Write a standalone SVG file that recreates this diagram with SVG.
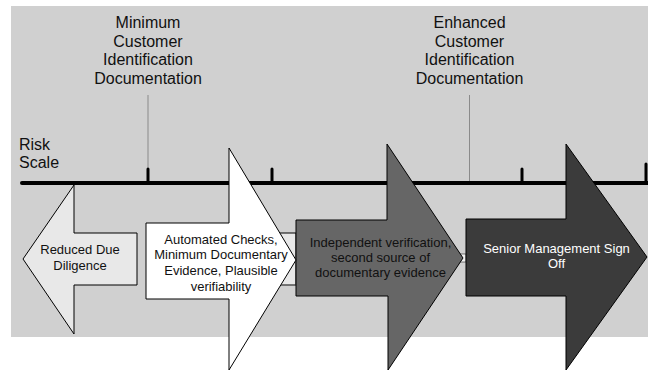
<svg xmlns="http://www.w3.org/2000/svg" width="648" height="371" viewBox="0 0 648 371">
  <style>
    .lbl { font-family: "Liberation Sans", Arial, sans-serif; font-size: 16px; fill: #111; text-anchor: middle; }
    .risk { font-family: "Liberation Sans", Arial, sans-serif; font-size: 16px; fill: #111; }
    .in { font-family: "Liberation Sans", Arial, sans-serif; font-size: 13px; text-anchor: middle; }
    .dark { fill: #111; }
    .light { fill: #fff; }
    .arrow { stroke: #000; stroke-width: 1; stroke-linejoin: miter; }
    .lead { stroke: #8a8a8a; stroke-width: 1; fill: none; }
    .tick { stroke: #000; stroke-width: 3; stroke-linecap: round; fill: none; }
  </style>

  <!-- backdrop panel -->
  <rect x="11" y="6" width="637" height="331" fill="#d0d0d0"/>

  <!-- risk scale axis, ticks and leader lines -->
  <g id="connectors">
    <line class="lead" x1="148" y1="95" x2="148" y2="168"/>
    <line class="lead" x1="469.5" y1="95" x2="469.5" y2="183"/>
    <line x1="22" y1="183" x2="648" y2="183" stroke="#000" stroke-width="4" stroke-linecap="round"/>
    <line class="tick" x1="148" y1="169" x2="148" y2="183"/>
    <line class="tick" x1="272" y1="169" x2="272" y2="183"/>
    <line class="tick" x1="522" y1="169" x2="522" y2="183"/>
    <line class="tick" x1="646" y1="164" x2="646" y2="183"/>
  </g>

  <g id="label-risk-scale">
    <text class="risk" x="19" y="150">Risk</text>
    <text class="risk" x="19" y="168">Scale</text>
  </g>

  <g id="label-minimum">
    <text class="lbl" x="148" y="28">Minimum</text>
    <text class="lbl" x="148" y="46.7">Customer</text>
    <text class="lbl" x="148" y="65.3">Identification</text>
    <text class="lbl" x="148" y="84">Documentation</text>
  </g>

  <g id="label-enhanced">
    <text class="lbl" x="469.5" y="28">Enhanced</text>
    <text class="lbl" x="469.5" y="46.7">Customer</text>
    <text class="lbl" x="469.5" y="65.3">Identification</text>
    <text class="lbl" x="469.5" y="84">Documentation</text>
  </g>

  <!-- clipped end label of the scale -->
  <text class="risk" transform="translate(652,147) rotate(90)">b</text>

  <!-- light connecting bands behind the arrow heads -->
  <g id="bands">
    <rect x="240" y="233" width="56" height="52" fill="#e8e8e8" stroke="#000" stroke-width="1"/>
    <line x1="240" y1="285" x2="296" y2="285" stroke="#777" stroke-width="1"/>
    <rect x="440" y="254" width="26" height="8" fill="#f2f2f2" stroke="#000" stroke-width="0.5"/>
  </g>

  <g id="node-reduced">
    <polygon class="arrow" fill="#e8e8e8" points="23,259 74,185 74,233 137,233 137,285 74,285 74,334"/>
    <text class="in dark" x="80" y="254">Reduced Due</text>
    <text class="in dark" x="80" y="270">Diligence</text>
  </g>

  <g id="node-independent">
    <polygon class="arrow" fill="#666666" points="296,220 387,220 387,144 463,258 388,370 388,296 296,296"/>
    <text class="in dark" x="380.5" y="247">Independent verification,</text>
    <text class="in dark" x="380.5" y="262">second source of</text>
    <text class="in dark" x="380.5" y="277">documentary evidence</text>
  </g>

  <g id="node-automated">
    <polygon class="arrow" fill="#ffffff" points="146,223 229,223 229,148 296,260 229,370 229,299 146,299"/>
    <text class="in dark" x="221" y="243.5">Automated Checks,</text>
    <text class="in dark" x="221" y="259.3">Minimum Documentary</text>
    <text class="in dark" x="221" y="275">Evidence, Plausible</text>
    <text class="in dark" x="221" y="290.5">verifiability</text>
  </g>

  <g id="node-senior">
    <polygon class="arrow" fill="#3b3b3b" points="466,219 566,219 566,144 647,257 566,370 566,296 466,296"/>
    <text class="in light" x="556.5" y="253">Senior Management Sign</text>
    <text class="in light" x="556.5" y="268">Off</text>
  </g>
</svg>
